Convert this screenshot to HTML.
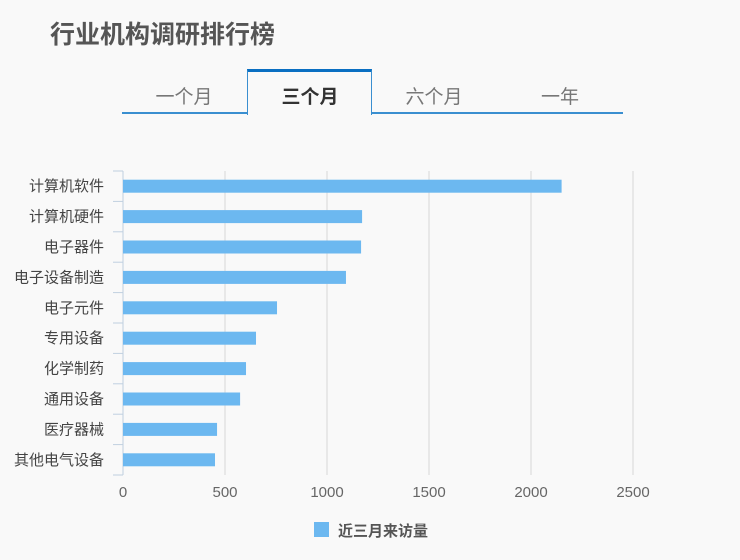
<!DOCTYPE html>
<html><head><meta charset="utf-8"><style>
body{margin:0;width:740px;height:560px;background:#f9f9f9;font-family:"Liberation Sans","Noto Sans CJK SC",sans-serif;overflow:hidden;position:relative}
.title{position:absolute;left:50px;top:15px;font-size:25px;font-weight:bold;color:#555}
.tab{position:absolute;top:82px;font-size:19px;color:#777;text-align:center;width:124px}
</style></head><body>
<div class="title">行业机构调研排行榜</div>
<div style="position:absolute;left:122px;top:112px;width:126px;height:2px;background:#3a8fd0"></div>
<div style="position:absolute;left:371px;top:112px;width:252px;height:2px;background:#3a8fd0"></div>
<div style="position:absolute;left:247px;top:69px;width:123px;height:43px;border:1px solid #3a8fd0;border-top:3px solid #0a6fc2;border-bottom:none"></div>
<div class="tab" style="left:122px">一个月</div>
<div class="tab" style="left:248px;color:#333;font-weight:bold">三个月</div>
<div class="tab" style="left:372px">六个月</div>
<div class="tab" style="left:498px">一年</div>
<svg id="chart" width="740" height="560" style="position:absolute;left:0;top:0"></svg>
<script>
const categories=["计算机软件","计算机硬件","电子器件","电子设备制造","电子元件","专用设备","化学制药","通用设备","医疗器械","其他电气设备"];
const values=[2150,1172,1167,1093,755,652,603,574,461,451];
const ticks=[0,500,1000,1500,2000,2500];
const legendLabel="近三月来访量";
const svg=document.getElementById('chart');
const NS="http://www.w3.org/2000/svg";
const x0=123,x1=633,plotTop=171,plotBottom=475,maxV=2500;
const xs=v=>x0+(v/maxV)*(x1-x0);
const band=(plotBottom-plotTop)/categories.length;
function mk(t,a,txt){const e=document.createElementNS(NS,t);for(const k in a)e.setAttribute(k,a[k]);if(txt!==undefined)e.textContent=txt;svg.appendChild(e);return e;}
ticks.forEach(t=>{
 if(t>0){const g=mk('line',{x1:xs(t),x2:xs(t),y1:plotTop,y2:plotBottom,stroke:'#d8d8d8','stroke-width':1});
 
 }
 const l=mk('text',{x:xs(t),y:497,'text-anchor':'middle','font-size':15,fill:'#666'},t);
 
 
});
const ax=mk('line',{x1:x0,x2:x0,y1:plotTop,y2:plotBottom,stroke:'#c0d0e0','stroke-width':1});


for(let i=0;i<=categories.length;i++){
 const t=mk('line',{x1:x0-10,x2:x0,y1:plotTop+i*band,y2:plotTop+i*band,stroke:'#c0d0e0','stroke-width':1});
 
 
}
categories.forEach((c,i)=>{
 const cy=plotTop+(i+0.5)*band;
 const r=mk('rect',{x:x0,y:cy-6.5,width:xs(values[i])-x0,height:13,fill:'#6cb8f0'});
 
 
 const l=mk('text',{x:104,y:cy+5,'text-anchor':'end','font-size':15,fill:'#444'},c);
 
 
});
const lr=mk('rect',{x:314,y:522,width:15,height:15,fill:'#6cb8f0'});


const lt=mk('text',{x:338,y:536,'font-size':15,'font-weight':'bold',fill:'#555'},legendLabel);


</script>
</body></html>
